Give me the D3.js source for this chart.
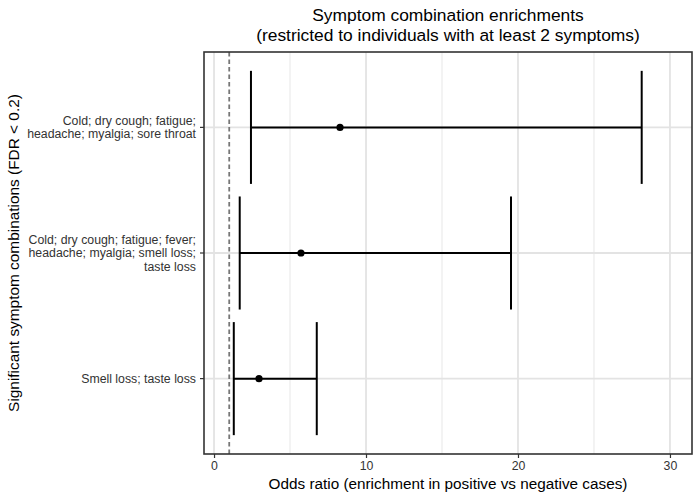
<!DOCTYPE html>
<html>
<head>
<meta charset="utf-8">
<script src="https://cdn.jsdelivr.net/npm/d3@7"></script>
<style>
  body { margin: 0; background: #fff; }
  text { font-family: "Liberation Sans", Arial, Helvetica, sans-serif; }
</style>
</head>
<body>
<div id="chart"></div>
<script>
// symptom combinations, top to bottom, each label split into lines
var combos = [
  ['Cold; dry cough; fatigue;', 'headache; myalgia; sore throat'],
  ['Cold; dry cough; fatigue; fever;', 'headache; myalgia; smell loss;', 'taste loss'],
  ['Smell loss; taste loss']
];
var oddsRatio = [8.29, 5.72, 2.96];
var ciLow = [2.43, 1.69, 1.30];
var ciHigh = [28.14, 19.54, 6.76];
var xTicks = [0, 10, 20, 30];
var xMinor = [5, 15, 25];
var nullLine = 1;

var width = 700, height = 500;
var margin = {top: 52, right: 8, bottom: 46, left: 204};
var pw = width - margin.left - margin.right;
var ph = height - margin.top - margin.bottom;

var svg = d3.select('#chart').append('svg')
  .attr('width', width)
  .attr('height', height);

var g = svg.append('g')
  .attr('transform', 'translate(' + margin.left + ',' + margin.top + ')');

var x = d3.scaleLinear().domain([-0.66, 31.45]).range([0, pw]);

// discrete axis, ggplot style expansion of 0.6 on each side
var idx = d3.range(combos.length);
var y = d3.scaleLinear().domain([0.4, combos.length + 0.6]).range([0, ph]);
function yPos(i) { return y(i + 1); }

// grid lines
g.selectAll('.minor').data(xMinor).enter().append('line')
  .attr('x1', d => x(d)).attr('x2', d => x(d))
  .attr('y1', 0).attr('y2', ph)
  .attr('stroke', '#ebebeb').attr('stroke-width', 1.2);
g.selectAll('.major').data(xTicks).enter().append('line')
  .attr('x1', d => x(d)).attr('x2', d => x(d))
  .attr('y1', 0).attr('y2', ph)
  .attr('stroke', '#e3e3e3').attr('stroke-width', 1.8);
g.selectAll('.hgrid').data(idx).enter().append('line')
  .attr('x1', 0).attr('x2', pw)
  .attr('y1', d => yPos(d)).attr('y2', d => yPos(d))
  .attr('stroke', '#e3e3e3').attr('stroke-width', 1.8);

// null line at odds ratio 1
g.append('line')
  .attr('x1', x(nullLine)).attr('x2', x(nullLine))
  .attr('y1', 0).attr('y2', ph)
  .attr('stroke', '#777').attr('stroke-width', 1.8)
  .attr('stroke-dasharray', '4.5,3');

// error bars (horizontal with vertical end caps)
var capH = (y(1.45) - y(1));
var bars = g.selectAll('.bar').data(idx).enter().append('g');
bars.append('line')
  .attr('x1', d => x(ciLow[d])).attr('x2', d => x(ciHigh[d]))
  .attr('y1', d => yPos(d)).attr('y2', d => yPos(d))
  .attr('stroke', '#000').attr('stroke-width', 2);
bars.append('line')
  .attr('x1', d => x(ciLow[d])).attr('x2', d => x(ciLow[d]))
  .attr('y1', d => yPos(d) - capH).attr('y2', d => yPos(d) + capH)
  .attr('stroke', '#000').attr('stroke-width', 2);
bars.append('line')
  .attr('x1', d => x(ciHigh[d])).attr('x2', d => x(ciHigh[d]))
  .attr('y1', d => yPos(d) - capH).attr('y2', d => yPos(d) + capH)
  .attr('stroke', '#000').attr('stroke-width', 2);
bars.append('circle')
  .attr('cx', d => x(oddsRatio[d])).attr('cy', d => yPos(d))
  .attr('r', 3.6).attr('fill', '#000');

// panel border
g.append('rect')
  .attr('width', pw).attr('height', ph)
  .attr('fill', 'none').attr('stroke', '#333').attr('stroke-width', 1.6);

// x axis
var xAxis = g.append('g')
  .attr('transform', 'translate(0,' + ph + ')')
  .call(d3.axisBottom(x).tickValues(xTicks).tickSize(4).tickPadding(3));
xAxis.select('.domain').remove();
xAxis.selectAll('line').attr('stroke', '#333').attr('stroke-width', 1.2);
xAxis.selectAll('text').attr('fill', '#333').style('font-size', '12.3px')
  .style('font-family', '"Liberation Sans", Arial, sans-serif');

// y axis ticks and multi-line labels
var yAxis = g.append('g');
yAxis.selectAll('line').data(idx).enter().append('line')
  .attr('x1', -4).attr('x2', 0)
  .attr('y1', d => yPos(d)).attr('y2', d => yPos(d))
  .attr('stroke', '#333').attr('stroke-width', 1.2);
var lineH = 13.6;
yAxis.selectAll('text').data(idx).enter().append('text')
  .attr('text-anchor', 'end')
  .attr('fill', '#333')
  .style('font-size', '12.3px')
  .each(function(d) {
    var lines = combos[d];
    var t = d3.select(this);
    var y0 = yPos(d) - (lines.length - 1) * lineH / 2;
    lines.forEach(function(l, k) {
      t.append('tspan')
        .attr('x', -8)
        .attr('y', y0 + k * lineH)
        .attr('dy', '0.35em')
        .text(l);
    });
  });

// titles
svg.append('text')
  .attr('x', margin.left + pw / 2).attr('y', 21)
  .attr('text-anchor', 'middle')
  .style('font-size', '17.4px')
  .text('Symptom combination enrichments');
svg.append('text')
  .attr('x', margin.left + pw / 2).attr('y', 41)
  .attr('text-anchor', 'middle')
  .style('font-size', '17.4px')
  .text('(restricted to individuals with at least 2 symptoms)');

svg.append('text')
  .attr('x', margin.left + pw / 2).attr('y', 489)
  .attr('text-anchor', 'middle')
  .style('font-size', '15.3px')
  .text('Odds ratio (enrichment in positive vs negative cases)');

svg.append('text')
  .attr('transform', 'translate(19,' + (margin.top + ph / 2) + ') rotate(-90)')
  .attr('text-anchor', 'middle')
  .style('font-size', '15.4px')
  .text('Significant symptom combinations (FDR < 0.2)');
</script>
</body>
</html>
